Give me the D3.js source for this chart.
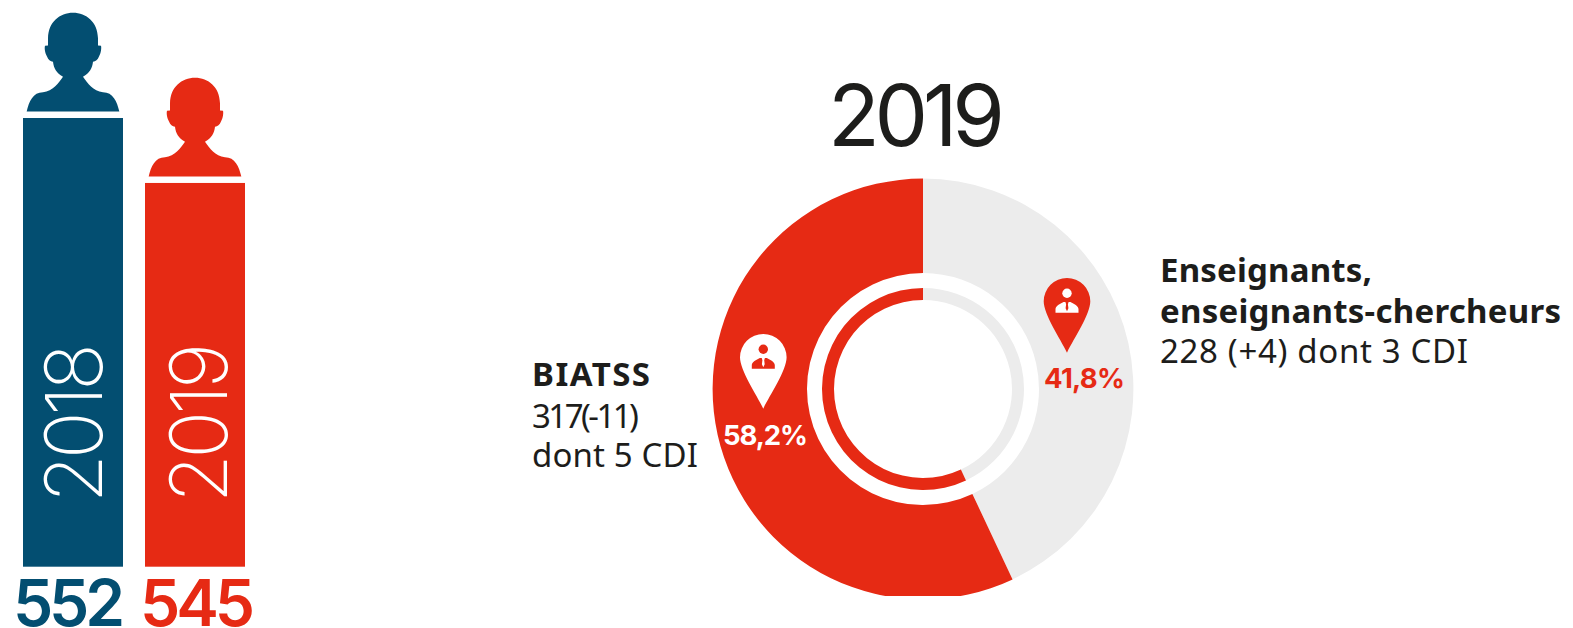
<!DOCTYPE html>
<html lang="fr">
<head>
<meta charset="utf-8">
<script src="https://cdn.jsdelivr.net/npm/d3@7"></script>
<style>
html,body{margin:0;padding:0;background:#fff;overflow:hidden}
svg{display:block}
</style>
</head>
<body>
<svg id="chart" width="1573" height="628"></svg>
<script>
// ---- data ----
const years = ["2018", "2019"];
const headcounts = [552, 545];
const headcountColors = ["#034e71", "#e62a14"];
const donutTitle = "2019";
const categories = ["Enseignants", "BIATSS"];
const shareLabels = ["41,8%", "58,2%"];
// Slice sizes as measured on the picture (its angle is about 155 deg for the first slice)
const drawnShares = [43.0, 57.0];
const sliceColors = ["#ececec", "#e62a14"];
const teacherLines = ["Enseignants,", "enseignants-chercheurs", "228 (+4) dont 3 CDI"];
const biatssLines = ["BIATSS", "317(-11)", "dont 5 CDI"];

const svg = d3.select("#chart");
const ink = "#1d1d1b";
const bodyFont = "'Noto Sans', sans-serif";
const numFont = "Inter, sans-serif";

// ---- bars ----
const x = d3.scaleBand().domain(years).range([23, 245]).paddingInner(22 / 122).paddingOuter(0);
// truncated axis, as in the source picture
const y = d3.scaleLinear().domain([503.65, 552]).range([566.7, 118]);

const silhouette = "M0,-296C40,-296 74,-268 75,-220L75,-198L84,-197C86,-190 84,-175 78,-165C74,-155 68,-150 60,-149C58,-130 50,-115 30,-104C44,-85 60,-60 90,-58C120,-58 132,-30 139,0L-139,0C-132,-30 -120,-58 -90,-58C-60,-60 -44,-85 -30,-104C-50,-115 -58,-130 -60,-149C-68,-150 -74,-155 -78,-165C-84,-175 -86,-190 -84,-197L-75,-198L-75,-220C-74,-268 -40,-296 0,-296Z";

const bars = svg.append("g").selectAll("g").data(years).join("g");
bars.append("rect")
  .attr("x", d => x(d))
  .attr("width", x.bandwidth())
  .attr("y", (d, i) => y(headcounts[i]))
  .attr("height", (d, i) => y.range()[0] - y(headcounts[i]))
  .attr("fill", (d, i) => headcountColors[i]);
bars.append("path")
  .attr("d", silhouette)
  .attr("transform", (d, i) => `translate(${x(d) + x.bandwidth() / 2},${y(headcounts[i]) - 6.5}) scale(${1 / 3})`)
  .attr("fill", (d, i) => headcountColors[i]);
bars.append("text")
  .attr("transform", (d, i) => `translate(${x(d) + [79, 82][i]},503) rotate(-90)`)
  .attr("font-family", numFont).attr("font-weight", 200).attr("font-size", 79)
  .attr("fill", "#fff")
  .attr("textLength", 160).attr("lengthAdjust", "spacing")
  .text(d => d);
bars.append("text")
  .attr("x", (d, i) => [13, 140][i])
  .attr("y", 626)
  .attr("font-family", numFont).attr("font-weight", 600).attr("font-size", 64)
  .attr("fill", (d, i) => headcountColors[i])
  .attr("textLength", (d, i) => [112, 115][i]).attr("lengthAdjust", "spacing")
  .text((d, i) => headcounts[i]);

// ---- donut ----
const cx = 923, cy = 389;
const pie = d3.pie().sort(null).value(d => d);
const slices = pie(drawnShares);
svg.append("clipPath").attr("id", "cut").append("rect")
  .attr("x", 0).attr("y", 0).attr("width", 1573).attr("height", 596);
const donut = svg.append("g").attr("clip-path", "url(#cut)").append("g").attr("transform", `translate(${cx},${cy})`);
const outerArc = d3.arc().innerRadius(116).outerRadius(210.4);
const innerArc = d3.arc().innerRadius(89).outerRadius(101);
donut.selectAll("path.outer").data(slices).join("path").attr("class", "outer")
  .attr("d", outerArc).attr("fill", (d, i) => sliceColors[i]);
donut.selectAll("path.inner").data(slices).join("path").attr("class", "inner")
  .attr("d", innerArc).attr("fill", (d, i) => sliceColors[i]);

svg.append("text")
  .attr("x", 828).attr("y", 145.7)
  .attr("font-family", numFont).attr("font-weight", 400).attr("font-size", 85)
  .attr("fill", ink)
  .attr("textLength", 177).attr("lengthAdjust", "spacing")
  .text(donutTitle);

// ---- pins ----
const pinPath = "M0,51.4C-7,37 -23.3,13 -23.3,0A23.3,23.3 0 0 1 23.3,0C23.3,13 7,37 0,51.4Z";
const pinSpec = [
  {x: 1067, y: 301.3, fill: "#e62a14", icon: "#fff"},
  {x: 763.3, y: 357.3, fill: "#fff", icon: "#e62a14"}
];
const pins = svg.append("g").selectAll("g").data(pinSpec).join("g")
  .attr("transform", d => `translate(${d.x},${d.y})`);
pins.append("path").attr("d", pinPath).attr("fill", d => d.fill);
pins.append("circle").attr("cy", -8).attr("r", 4.7).attr("fill", d => d.icon);
pins.append("path")
  .attr("d", "M-11.5,11.4L-11.5,8C-11.5,4 -7,3 -3.5,0.6L3.5,0.6C7,3 11.5,4 11.5,8L11.5,11.4Z")
  .attr("fill", d => d.icon);
pins.append("path")
  .attr("d", "M-1.6,0.8L1.6,0.8L0.9,3L1.4,7L0,10L-1.4,7L-0.9,3Z")
  .attr("fill", d => d.fill);

// ---- percentages ----
svg.append("g").selectAll("text").data(shareLabels).join("text")
  .attr("x", (d, i) => [1044, 723][i])
  .attr("y", (d, i) => [388, 445][i])
  .attr("font-family", numFont).attr("font-weight", 700).attr("font-size", 27.5)
  .attr("fill", (d, i) => ["#e62a14", "#fff"][i])
  .attr("textLength", (d, i) => [81, 85][i]).attr("lengthAdjust", "spacing")
  .text(d => d);

// ---- captions ----
function caption(lines, xPos, baselines, widths, bolds) {
  svg.append("g").selectAll("text").data(lines).join("text")
    .attr("x", xPos)
    .attr("y", (d, i) => baselines[i])
    .attr("font-family", bodyFont)
    .attr("font-size", 33)
    .attr("font-weight", (d, i) => i < bolds ? 700 : 400)
    .attr("fill", ink)
    .attr("textLength", (d, i) => widths[i]).attr("lengthAdjust", "spacing")
    .text(d => d);
}
caption(teacherLines, 1160, [281.7, 322.7, 362.7], [212, 401, 308], 2);
caption(biatssLines, 532, [386, 428, 467], [118, 107, 166], 1);
</script>
</body>
</html>
